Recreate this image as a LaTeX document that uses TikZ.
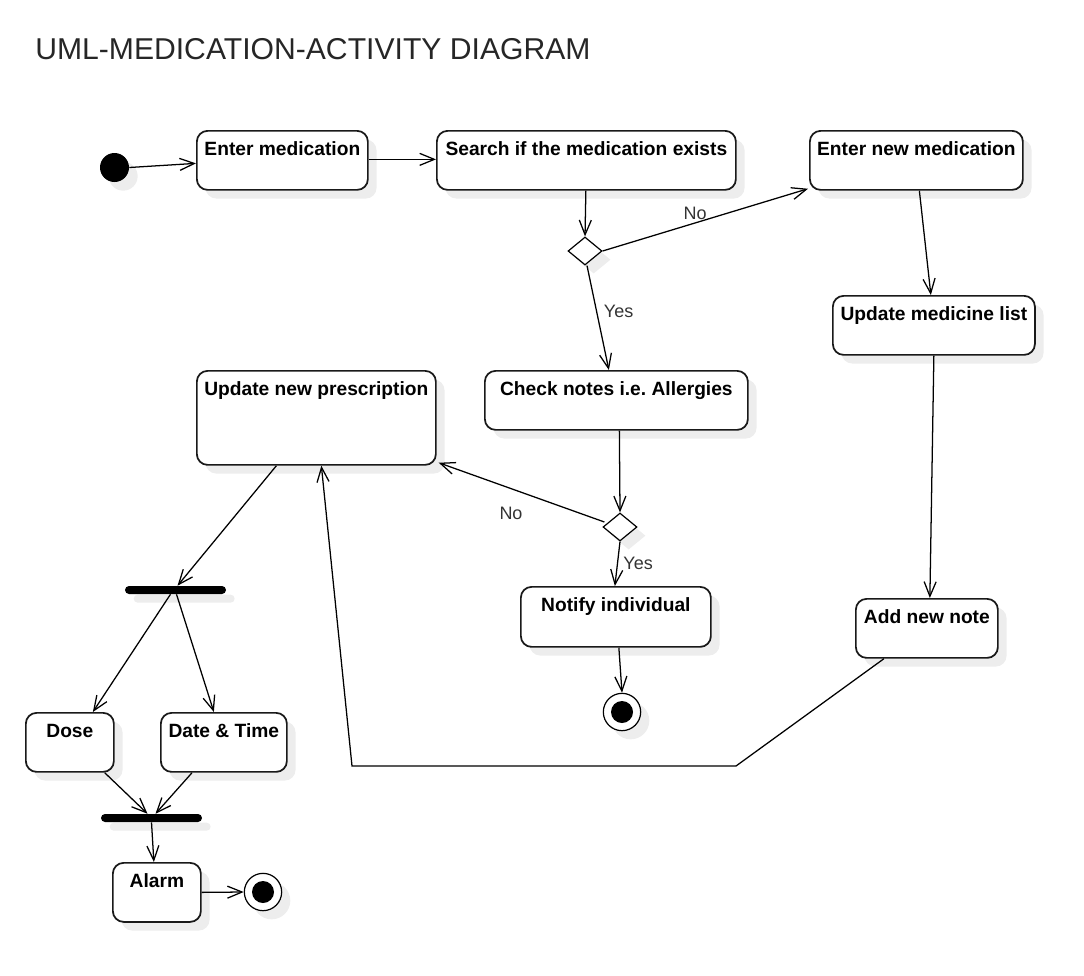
\documentclass[tikz,border=0pt]{standalone}
\usepackage{fontspec}
\setmainfont{Liberation Sans}
\frenchspacing
\usetikzlibrary{shapes.geometric,arrows.meta,calc,shadows}
\begin{document}
\begin{tikzpicture}[x=0.75pt,y=-0.75pt,
  shad/.style={drop shadow={shadow xshift=6.5pt,shadow yshift=-6.5pt,fill=black!7,opacity=1}},
  act/.style={shad,draw=black!90,line width=1.3pt,fill=white,rounded corners=8pt,anchor=north west,
    inner sep=0pt,align=center,font=\fontsize{14.4}{17}\selectfont\bfseries,
    text height=18.6pt,text depth=25.65pt,minimum height=44.25pt},
  actl/.style={act,text depth=51.9pt,minimum height=70.5pt},
  dec/.style={shad,diamond,draw=black,line width=0.9pt,fill=white,inner sep=0pt,minimum width=25.5pt,minimum height=21pt},
  bar/.style={shad,draw=none,fill=black,rounded corners=3pt,minimum width=75.75pt,minimum height=6pt,inner sep=0pt},
  startn/.style={shad,circle,fill=black,draw=none,minimum size=21.75pt,inner sep=0pt},
  endn/.style={shad,circle,draw=black,line width=0.9pt,fill=white,minimum size=28pt,inner sep=0pt,
    path picture={\fill[black] (path picture bounding box.center) circle (8.25pt);}},
  flow/.style={draw=black,line width=0.95pt,-{Straight Barb[length=11pt,width=9pt,line width=0.95pt]}},
  lbl/.style={font=\fontsize{13.5}{16}\selectfont,text=black!80,inner sep=0pt}]
\useasboundingbox (0,0) rectangle (1084,975);

\node[anchor=base west,font=\fontsize{22.6}{27}\selectfont,text=black!85,inner sep=0pt] (title) at (35,59) {UML-MEDICATION-ACTIVITY DIAGRAM};

\node[startn] (init) at (114.5,167.5) {};
\node[act,minimum width=128.25pt] (em) at (196,130) {Enter medication};
\node[act,minimum width=224.25pt] (search) at (436,130) {Search if the medication exists};
\node[act,minimum width=159.75pt] (enm) at (809,130) {Enter new medication};
\node[dec] (d1) at (585,251) {};
\node[act,minimum width=151.5pt] (uml) at (832,295) {Update medicine list};
\node[act,minimum width=197.25pt] (check) at (484,370) {Check notes i.e. Allergies};
\node[actl,minimum width=179.25pt] (presc) at (196,370) {Update new prescription};
\node[dec] (d2) at (620,527) {};
\node[act,minimum width=142.5pt,text depth=26.4pt,minimum height=45pt] (notify) at (520,586) {Notify individual};
\node[endn] (fin1) at (622,712) {};
\node[act,minimum width=106.5pt] (addnote) at (855,598) {Add new note};
\node[bar] (fork) at (175.5,590) {};
\node[act,minimum width=66pt] (dose) at (25,712) {Dose};
\node[act,minimum width=94.5pt] (dt) at (160,712) {Date \& Time};
\node[bar] (join) at (151.5,818) {};
\node[act,minimum width=66pt] (alarm) at (112,862) {Alarm};
\node[endn] (fin2) at (263,892) {};

\coordinate (b1) at (736,766);
\coordinate (b2) at (352,766);

\draw[flow] (init.east) -- ($(em.west)+(0,3)$);
\draw[flow] ($(em.east)+(0,-1)$) -- ($(search.west)+(0,-1)$);
\draw[flow] ($(search.south)+(-0.5,0)$) -- (d1.north);
\draw[flow] (d1.east) -- node[lbl,pos=0.45,anchor=south,yshift=2pt] {No} ($(enm.south west)+(-1,-2)$);
\draw[flow] ($(d1.south)+(2,0)$) -- node[lbl,pos=0.44,anchor=west,xshift=5pt] {Yes} ($(check.north)+(-7.5,0)$);
\draw[flow] ($(enm.south)+(3,0)$) -- ($(uml.north)+(-3,0)$);
\draw[flow] (uml.south) -- ($(addnote.north)+(3,0)$);
\draw[flow] ($(check.south)+(3,0)$) -- (d2.north);
\draw[flow] ($(d2.west)+(2,-5)$) -- ($(presc.south east)+(2,-3)$);
\node[lbl] (no2) at (511,513) {No};
\draw[flow] (d2.south) -- node[lbl,pos=0.5,anchor=west,xshift=4pt] {Yes} ($(notify.north)+(-1,0)$);
\draw[flow] ($(notify.south)+(3,0)$) -- (fin1.north);
\draw[flow] ($(addnote.south)+(-43,0)$) -- (b1) -- (b2) -- ($(presc.south)+(5,0)$);
\draw[flow] ($(presc.south)+(-40,0)$) -- ($(fork.north)+(2,0)$);
\draw[flow] ($(fork.south)+(-5,0)$) -- ($(dose.north)+(23,0)$);
\draw[flow] ($(fork.south)+(1,0)$) -- ($(dt.north)+(-10,0)$);
\draw[flow] ($(dose.south east)+(-10,0)$) -- ($(join.north)+(-4,0)$);
\draw[flow] ($(dt.south west)+(32,0)$) -- ($(join.north)+(4,0)$);
\draw[flow] (join.south) -- ($(alarm.north)+(-3,0)$);
\draw[flow] (alarm.east) -- (fin2.west);
\end{tikzpicture}
\end{document}
